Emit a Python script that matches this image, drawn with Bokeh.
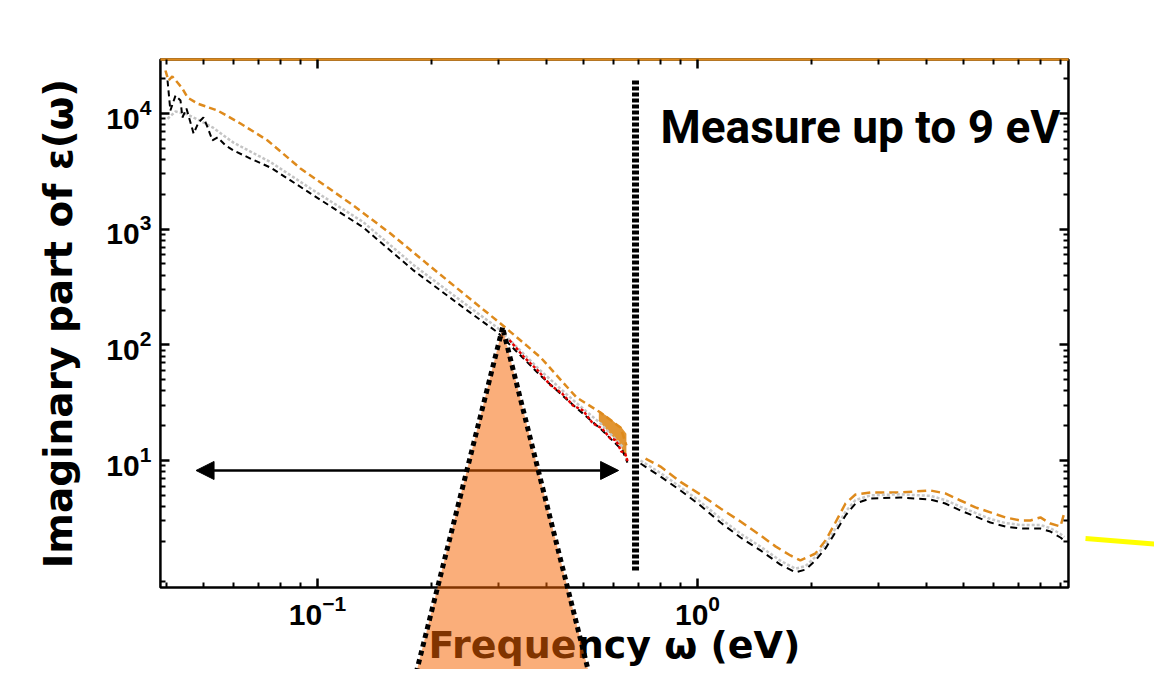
from bokeh.plotting import figure
from bokeh.models import (Range1d, LogAxis, FixedTicker, Label, Arrow, NormalHead,
                          PolyAnnotation, BoxAnnotation, CustomJSTickFormatter)
from bokeh.embed import file_html
from bokeh.resources import INLINE

# ---------------- data ----------------
OMEGA_ORANGE_LOW = [0.0398, 0.0405, 0.0415, 0.0428, 0.0441, 0.0455, 0.0483, 0.0546, 0.0627,
                    0.0739, 0.0902, 0.100, 0.1222, 0.1556, 0.1924, 0.2421, 0.3031, 0.3863,
                    0.4803, 0.5556, 0.6270, 0.6503]
EPS_ORANGE_LOW = [23550, 19300, 20900, 18540, 16440, 13740, 12190, 10610, 8200,
                  5850, 3350, 2640, 1668, 918, 516, 278, 153, 78,
                  35.1, 26.0, 19.3, 13.5]

OMEGA_BLACK_LOW = [0.0403, 0.0410, 0.0423, 0.0436, 0.0441, 0.0452, 0.0472, 0.0486, 0.0501,
                   0.0514, 0.0529, 0.0546, 0.0573, 0.0601, 0.0666, 0.0752, 0.0849, 0.0958,
                   0.132, 0.179, 0.242, 0.298, 0.386, 0.472, 0.555, 0.635, 0.654]
EPS_BLACK_LOW = [19300, 10610, 14320, 12950, 9240, 11050, 6710, 8360, 9240,
                 7570, 5850, 6210, 5290, 4790, 4080, 3410, 2640, 2040,
                 1034, 440, 210, 128, 54.3, 29.9, 18.9, 12.2, 9.6]

OMEGA_GRAY_LOW = [0.0403, 0.0423, 0.0452, 0.0486, 0.0529, 0.0601, 0.0752, 0.0958,
                  0.132, 0.179, 0.242, 0.298, 0.386, 0.472, 0.555, 0.635]
EPS_GRAY_LOW = [9000, 10400, 9900, 8800, 7600, 5600, 3800, 2250,
                1150, 490, 232, 140, 60, 33, 21, 13.2]

OMEGA_RED = [0.32, 0.35, 0.38, 0.41, 0.44, 0.47, 0.50, 0.53, 0.56, 0.59, 0.61, 0.63, 0.645, 0.655]
EPS_RED = [110, 78, 60, 45, 38, 30, 27, 21, 19, 15.5, 15, 12, 11.5, 9.8]

OMEGA_BAND = [0.55, 0.58, 0.61, 0.63, 0.65]
EPS_BAND_LOW = [22, 18, 15, 13, 10.5]
EPS_BAND_HIGH = [27, 24, 21, 19.5, 17]

OMEGA_ORANGE_HIGH = [0.730, 0.799, 0.902, 1.018, 1.15, 1.298, 1.465, 1.604, 1.757, 1.866,
                     2.044, 2.172, 2.307, 2.452, 2.605, 2.853, 3.42, 4.10, 4.49, 4.92,
                     5.39, 5.90, 6.46, 7.08, 7.52, 7.99, 8.49, 9.02, 9.24]
EPS_ORANGE_HIGH = [10.4, 8.87, 6.53, 5.08, 3.85, 2.97, 2.25, 1.81, 1.51, 1.37,
                   1.57, 2.03, 2.91, 4.25, 5.08, 5.29, 5.29, 5.51, 5.19, 4.51,
                   3.93, 3.56, 3.22, 3.03, 3.03, 3.22, 2.85, 2.69, 3.56]

OMEGA_BLACK_HIGH = [0.708, 0.799, 0.902, 1.018, 1.15, 1.298, 1.465, 1.653, 1.81, 1.924,
                    2.044, 2.172, 2.307, 2.452, 2.605, 2.853, 3.42, 4.10, 4.49, 4.92,
                    5.39, 5.90, 6.46, 7.08, 7.99, 8.49, 9.02, 9.24]
EPS_BLACK_HIGH = [9.42, 7.28, 5.51, 4.08, 2.91, 2.16, 1.67, 1.26, 1.08, 1.14,
                  1.37, 1.74, 2.39, 3.35, 4.25, 4.70, 4.79, 4.60, 4.25, 3.70,
                  3.28, 2.91, 2.69, 2.58, 2.58, 2.43, 2.16, 2.03]

OMEGA_GRAY_HIGH = [0.708, 0.799, 0.902, 1.018, 1.15, 1.298, 1.465, 1.653, 1.81, 1.924,
                   2.044, 2.172, 2.307, 2.452, 2.605, 2.853, 3.42, 4.10, 4.49, 4.92,
                   5.39, 5.90, 6.46, 7.08, 7.99, 8.49, 9.02, 9.24]
EPS_GRAY_HIGH = [10.0, 7.8, 5.9, 4.4, 3.15, 2.33, 1.80, 1.36, 1.16, 1.22,
                 1.47, 1.88, 2.58, 3.6, 4.55, 5.0, 5.1, 4.95, 4.55, 3.98,
                 3.52, 3.12, 2.88, 2.77, 2.77, 2.6, 2.32, 2.18]

# chart box (axis extents) and the visible view around it
X_BOX = (0.0386, 9.47)
Y_BOX = (0.798, 29300)
X_VIEW = (0.014646, 15.95)
Y_VIEW = (0.156, 94840)
X_MAJOR = [0.1, 1.0]
X_MINOR = [0.04, 0.05, 0.06, 0.07, 0.08, 0.09, 0.2, 0.3, 0.4, 0.5, 0.6, 0.7, 0.8, 0.9,
           2, 3, 4, 5, 6, 7, 8, 9]
Y_MAJOR = [10, 100, 1000, 10000]
Y_MINOR = [0.9, 2, 3, 4, 5, 6, 7, 8, 9, 20, 30, 40, 50, 60, 70, 80, 90,
           200, 300, 400, 500, 600, 700, 800, 900, 2000, 3000, 4000, 5000, 6000,
           7000, 8000, 9000, 20000]
X_LABEL = "Frequency ω (eV)"
Y_LABEL = "Imaginary part of ε(ω)"
NOTE = "Measure up to 9 eV"

CUTOFF_OMEGA = 0.687
CUTOFF_SPAN = (1.12, 19300)
ARROW_OMEGA = (0.0479, 0.620)
ARROW_EPS = 8.2
NOTE_POS = (0.799, 7720)
TRI1_X = [0.307, 0.1784, 0.5277]
TRI1_Y = [141, 0.1135, 0.1135]
TRI2_X = [19.6, 15.75, 24.4]
TRI2_Y = [1.84, 0.1135, 0.1135]
YELLOW_X = (10.5, 19.6)
YELLOW_Y = (2.12, 1.80)

ORANGE = "#de8a1c"

p = figure(width=1154, height=669, x_axis_type="log", y_axis_type="log",
           x_range=Range1d(*X_VIEW), y_range=Range1d(*Y_VIEW),
           output_backend="svg", toolbar_location=None,
           min_border_left=0, min_border_top=0, min_border_right=0, min_border_bottom=0)
p.title.visible = False
p.background_fill_color = "white"
p.border_fill_color = "white"
p.outline_line_color = None
p.grid.visible = False

x_ticker = FixedTicker(ticks=X_MAJOR, minor_ticks=X_MINOR)
y_ticker = FixedTicker(ticks=Y_MAJOR, minor_ticks=Y_MINOR)
blank = CustomJSTickFormatter(code="return ''")

p.add_layout(LogAxis(ticker=y_ticker, formatter=blank), "right")
p.add_layout(LogAxis(ticker=x_ticker, formatter=blank), "above")
p.below[0].ticker = x_ticker
p.left[0].ticker = y_ticker

p.below[0].fixed_location = Y_BOX[0]
p.above[0].fixed_location = Y_BOX[1]
p.left[0].fixed_location = X_BOX[0]
p.right[0].fixed_location = X_BOX[1]
for ax in p.below + p.above:
    ax.bounds = X_BOX
for ax in p.left + p.right:
    ax.bounds = Y_BOX


def style_axis(ax, standoff):
    ax.axis_line_color = None
    ax.major_tick_in = 9
    ax.major_tick_out = 0
    ax.minor_tick_in = 5
    ax.minor_tick_out = 0
    ax.major_tick_line_width = 2.5
    ax.minor_tick_line_width = 2
    ax.major_tick_line_color = "black"
    ax.minor_tick_line_color = "black"
    ax.major_label_text_font = "Liberation Sans"
    ax.major_label_text_font_style = "bold"
    ax.major_label_text_font_size = "30px"
    ax.major_label_text_color = "black"
    ax.major_label_standoff = standoff


for ax in p.left + p.above + p.right:
    style_axis(ax, 9)
style_axis(p.below[0], 7)

p.below[0].axis_label = X_LABEL
p.left[0].axis_label = Y_LABEL
for ax, size, stand in ((p.below[0], "38px", -5), (p.left[0], "39px", 22)):
    ax.axis_label_text_font = "DejaVu Sans"
    ax.axis_label_text_font_style = "bold"
    ax.axis_label_text_font_size = size
    ax.axis_label_text_color = "black"
    ax.axis_label_standoff = stand

# chart box
p.add_layout(BoxAnnotation(left=X_BOX[0], right=X_BOX[1], bottom=Y_BOX[0], top=Y_BOX[1],
                           fill_color=None, fill_alpha=0, line_color="black", line_alpha=1,
                           line_width=2.5, level="underlay"))
p.segment(x0=[X_BOX[0]], y0=[Y_BOX[1]], x1=[X_BOX[1]], y1=[Y_BOX[1]],
          line_color=ORANGE, line_width=2.5)

# curves
p.varea(x=OMEGA_BAND, y1=EPS_BAND_LOW, y2=EPS_BAND_HIGH, fill_color=ORANGE, fill_alpha=0.9)
p.line(OMEGA_ORANGE_LOW, EPS_ORANGE_LOW, line_color=ORANGE, line_width=2.5, line_dash="7 4")
p.line(OMEGA_GRAY_LOW, EPS_GRAY_LOW, line_color="#c4c4c4", line_width=2.5, line_dash="3 2")
p.line(OMEGA_BLACK_LOW, EPS_BLACK_LOW, line_color="black", line_width=2, line_dash="6 4")
p.line(OMEGA_RED, EPS_RED, line_color="#e60000", line_width=2.5, line_dash="3 2")

p.line(OMEGA_ORANGE_HIGH, EPS_ORANGE_HIGH, line_color=ORANGE, line_width=2.5, line_dash="9 5")
p.line(OMEGA_GRAY_HIGH, EPS_GRAY_HIGH, line_color="#c8c8c8", line_width=2.5, line_dash="3 2")
p.line(OMEGA_BLACK_HIGH, EPS_BLACK_HIGH, line_color="black", line_width=2, line_dash="7 5")

# annotations
p.segment(x0=[CUTOFF_OMEGA], y0=[CUTOFF_SPAN[0]], x1=[CUTOFF_OMEGA], y1=[CUTOFF_SPAN[1]],
          line_color="black", line_width=7, line_dash="4 2")

p.add_layout(Arrow(x_start=ARROW_OMEGA[0], y_start=ARROW_EPS, x_end=ARROW_OMEGA[1], y_end=ARROW_EPS,
                   line_color="black", line_width=2.5,
                   start=NormalHead(size=18, fill_color="black", line_color="black"),
                   end=NormalHead(size=18, fill_color="black", line_color="black")))

p.add_layout(Label(x=NOTE_POS[0], y=NOTE_POS[1], text=NOTE, text_font="Roboto",
                   text_font_style="bold", text_font_size="46px", text_color="black",
                   text_align="left", text_baseline="alphabetic"))

p.add_layout(Arrow(x_start=YELLOW_X[0], y_start=YELLOW_Y[0], x_end=YELLOW_X[1], y_end=YELLOW_Y[1],
                   line_color="#ffff00", line_width=5, end=None))

for xs, ys in ((TRI1_X, TRI1_Y), (TRI2_X, TRI2_Y)):
    p.add_layout(PolyAnnotation(xs=xs, ys=ys, fill_color="#f66400", fill_alpha=0.52,
                                line_color="black", line_alpha=1, line_width=5,
                                line_dash="5 4", level="overlay"))

open("out.html", "w").write(file_html(p, INLINE))
